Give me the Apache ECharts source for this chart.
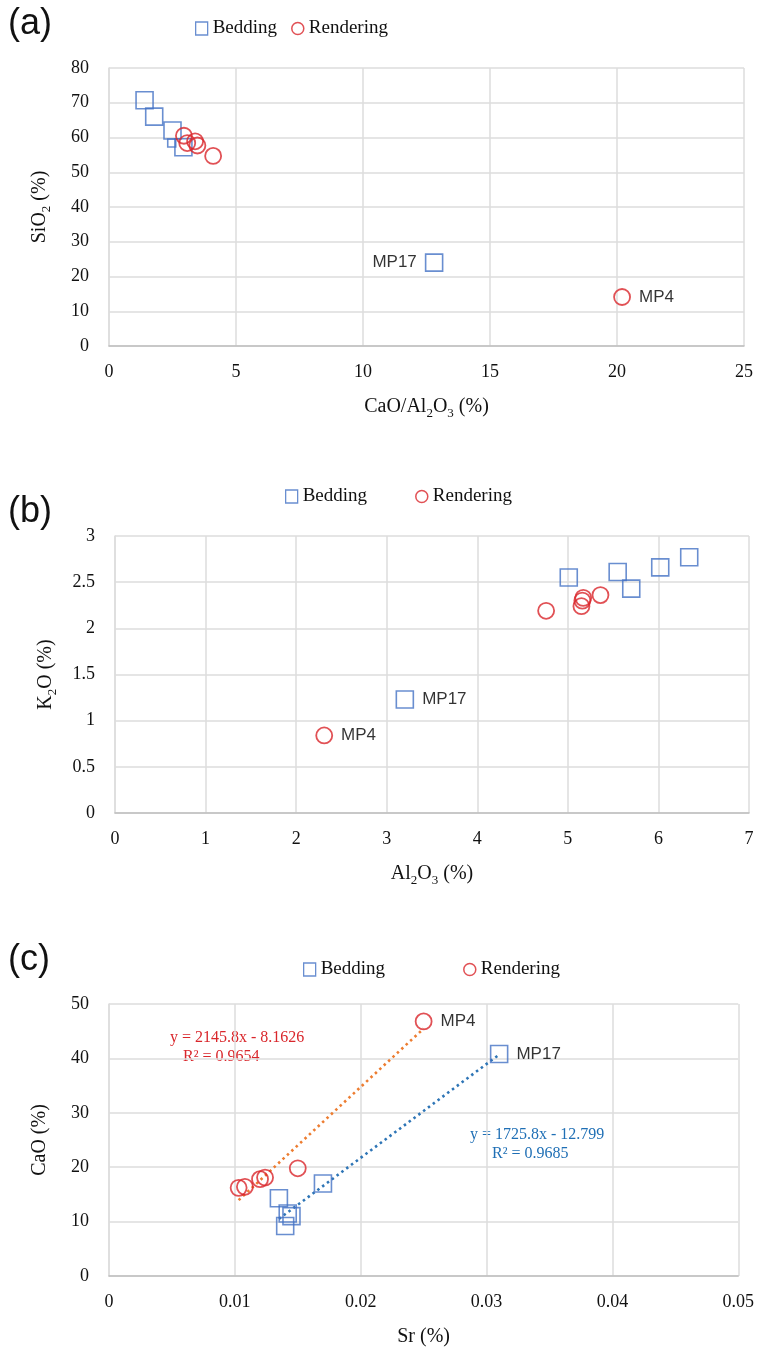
<!DOCTYPE html>
<html><head><meta charset="utf-8">
<script src="https://cdn.jsdelivr.net/npm/echarts@6/dist/echarts.min.js"></script>
<style>html,body{margin:0;padding:0;background:#fff}#c{width:757px;height:1365px}</style>
</head><body><div id="c"></div>
<script>
// ---- Panel (a): SiO2 vs CaO/Al2O3
const aBeddingX = [1.4, 1.78, 2.5, 2.47, 2.93, 12.8];
const aBeddingY = [70.7, 66.0, 62.0, 58.4, 57.2, 24.0];
const aBeddingLabels = ['', '', '', '', '', 'MP17'];
const aRenderX = [2.95, 3.08, 3.39, 3.48, 4.1, 20.2];
const aRenderY = [60.5, 58.4, 58.9, 57.7, 54.7, 14.1];
const aRenderLabels = ['', '', '', '', '', 'MP4'];
// ---- Panel (b): K2O vs Al2O3
const bBeddingX = [5.01, 5.55, 5.7, 6.02, 6.34, 3.2];
const bBeddingY = [2.55, 2.61, 2.43, 2.66, 2.77, 1.23];
const bBeddingLabels = ['', '', '', '', '', 'MP17'];
const bRenderX = [4.76, 5.15, 5.16, 5.17, 5.36, 2.31];
const bRenderY = [2.19, 2.24, 2.3, 2.33, 2.36, 0.84];
const bRenderLabels = ['', '', '', '', '', 'MP4'];
// ---- Panel (c): CaO vs Sr
const cBeddingX = [0.0135, 0.014, 0.0142, 0.0145, 0.017, 0.031];
const cBeddingY = [14.3, 9.2, 11.5, 11.0, 17.0, 40.8];
const cBeddingLabels = ['', '', '', '', '', 'MP17'];
const cRenderX = [0.0103, 0.0108, 0.012, 0.0124, 0.015, 0.025];
const cRenderY = [16.2, 16.4, 17.8, 18.1, 19.8, 46.8];
const cRenderLabels = ['', '', '', '', '', 'MP4'];
// trend lines (slope, intercept) as printed on chart
const cBeddingFit = [1725.8, -12.799];
const cRenderFit = [2145.8, -8.1626];
const cBeddingEq = ['y = 1725.8x - 12.799', 'R² = 0.9685'];
const cRenderEq = ['y = 2145.8x - 8.1626', 'R² = 0.9654'];
// axis ranges / ticks
const aX = [0, 25, 5], aY = [0, 80, 10];
const bX = [0, 7, 1], bY = [0, 3, 0.5];
const cX = [0, 0.05, 0.01], cY = [0, 50, 10];

const SERIF = 'Liberation Serif, Times New Roman, serif';
const SANS = 'Liberation Sans, Arial, sans-serif';
const BLUE = '#4472C4', RED = '#D9262B';

const grids = [
  {left: 109, right: 13, top: 68, height: 278},
  {left: 115, right: 8, top: 536, height: 277},
  {left: 109, right: 16, top: 1004, height: 272}
];
const rich = {
  n: {fontFamily: SERIF, fontSize: 20, color: '#111', lineHeight: 26, verticalAlign: 'middle'},
  s: {fontFamily: SERIF, fontSize: 13, color: '#111', lineHeight: 26, verticalAlign: 'bottom', padding: [10, 0, 0, 0]}
};
function xAx(i, r, name) {
  return {gridIndex: i, type: 'value', min: r[0], max: r[1], interval: r[2],
    name: name, nameLocation: 'middle', nameGap: 48, nameTextStyle: {rich: rich},
    axisLine: {show: true, onZero: false, lineStyle: {color: '#bfbfbf', width: 1.5}},
    axisTick: {show: false},
    splitLine: {show: true, lineStyle: {color: '#dcdcdc', width: 1.5}},
    axisLabel: {fontFamily: SERIF, fontSize: 18, color: '#111', margin: 17}};
}
function yAx(i, r, name) {
  return {gridIndex: i, type: 'value', min: r[0], max: r[1], interval: r[2],
    name: name, nameLocation: 'middle', nameGap: 56, nameRotate: 90, nameTextStyle: {rich: rich},
    axisLine: {show: true, lineStyle: {color: '#dcdcdc', width: 1.5}},
    axisTick: {show: false},
    splitLine: {show: true, lineStyle: {color: '#dcdcdc', width: 1.5}},
    axisLabel: {fontFamily: SERIF, fontSize: 18, color: '#111', margin: 20}};
}
function pts(xs, ys, labels, smallIdx) {
  return xs.map((x, i) => {
    const o = {value: [x, ys[i]], name: labels[i]};
    if (smallIdx === i) o.symbolSize = 8;
    return o;
  });
}
function sc(name, i, xs, ys, labels, pos, smallIdx) {
  const isB = name === 'Bedding';
  return {name: name, type: 'scatter', xAxisIndex: i, yAxisIndex: i,
    symbol: isB ? 'rect' : 'circle', symbolSize: isB ? 17 : 16,
    itemStyle: {color: 'rgba(255,255,255,0)', borderColor: isB ? BLUE : RED, borderWidth: isB ? 1.6 : 1.8},
    label: {show: true, position: pos, distance: 8, formatter: p => p.name,
      fontFamily: SANS, fontSize: 17, color: '#000'},
    data: pts(xs, ys, labels, smallIdx), z: isB ? 3 : 4};
}
function trend(i, xs, fit, color) {
  const lo = Math.min(...xs), hi = Math.max(...xs);
  return {type: 'line', xAxisIndex: i, yAxisIndex: i, symbol: 'none', silent: true,
    lineStyle: {color: color, width: 2.6, type: [2.5, 3.5]},
    data: [[lo, fit[0] * lo + fit[1]], [hi, fit[0] * hi + fit[1]]], z: 2};
}
function legend(top, left, gap) {
  return {top: top, left: left, itemGap: gap, itemWidth: 12, itemHeight: 13, selectedMode: false,
    textStyle: {fontFamily: SERIF, fontSize: 19, color: '#111'},
    data: [{name: 'Bedding', icon: 'rect', itemStyle: {color: '#fff', borderColor: BLUE, borderWidth: 1.3}},
           {name: 'Rendering', icon: 'circle', itemStyle: {color: '#fff', borderColor: RED, borderWidth: 1.5}}]};
}
const chart = echarts.init(document.getElementById('c'), null, {renderer: 'canvas'});
chart.setOption({
  animation: false,
  backgroundColor: '#fff',
  grid: grids,
  legend: [legend(14, 190, 14), legend(482, 280, 48), legend(955, 298, 78)],
  xAxis: [
    xAx(0, aX, '{n|CaO/Al}{s|2}{n|O}{s|3}{n| (%)}'),
    xAx(1, bX, '{n|Al}{s|2}{n|O}{s|3}{n| (%)}'),
    xAx(2, cX, '{n|Sr (%)}')
  ],
  yAxis: [
    yAx(0, aY, '{n|SiO}{s|2}{n| (%)}'),
    yAx(1, bY, '{n|K}{s|2}{n|O (%)}'),
    yAx(2, cY, '{n|CaO (%)}')
  ],
  series: [
    sc('Bedding', 0, aBeddingX, aBeddingY, aBeddingLabels, 'left', 3),
    sc('Rendering', 0, aRenderX, aRenderY, aRenderLabels, 'right'),
    sc('Bedding', 1, bBeddingX, bBeddingY, bBeddingLabels, 'right'),
    sc('Rendering', 1, bRenderX, bRenderY, bRenderLabels, 'right'),
    trend(2, cRenderX, cRenderFit, '#ED7D31'),
    trend(2, cBeddingX, cBeddingFit, '#2E75B6'),
    sc('Bedding', 2, cBeddingX, cBeddingY, cBeddingLabels, 'right'),
    sc('Rendering', 2, cRenderX, cRenderY, cRenderLabels, 'right')
  ],
  graphic: [
    {type: 'text', left: 8, top: 6, style: {text: '(a)', font: '36px ' + SANS, fill: '#111'}},
    {type: 'text', left: 8, top: 494, style: {text: '(b)', font: '36px ' + SANS, fill: '#111'}},
    {type: 'text', left: 8, top: 942, style: {text: '(c)', font: '36px ' + SANS, fill: '#111'}},
    {type: 'text', left: 170, top: 1030, style: {text: cRenderEq[0], font: '16px ' + SERIF, fill: RED}},
    {type: 'text', left: 183, top: 1049, style: {text: cRenderEq[1], font: '16px ' + SERIF, fill: RED}},
    {type: 'text', left: 470, top: 1127, style: {text: cBeddingEq[0], font: '16px ' + SERIF, fill: '#1F6FB5'}},
    {type: 'text', left: 492, top: 1146, style: {text: cBeddingEq[1], font: '16px ' + SERIF, fill: '#1F6FB5'}}
  ]
});
</script></body></html>
